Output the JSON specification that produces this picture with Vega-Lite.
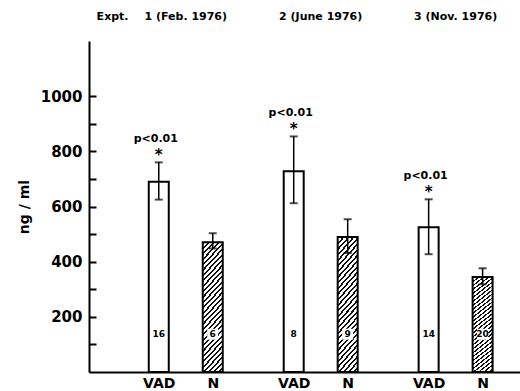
{
  "$schema": "https://vega.github.io/schema/vega-lite/v6.json",
  "width": 431,
  "height": 331,
  "autosize": {"type": "none"},
  "padding": {"left": 89, "top": 41, "right": 0, "bottom": 19},
  "background": "white",
  "config": {"view": {"stroke": null}},
  "resolve": {"axis": {"y": "independent"}},
  "datasets": {
    "bars": [
      {"expt": 1, "group": "VAD", "pos": 1, "mean": 690, "lo": 625, "hi": 760, "n": 16, "sig": "p<0.01"},
      {"expt": 1, "group": "N", "pos": 2, "mean": 470, "lo": 448, "hi": 503, "n": 6, "sig": ""},
      {"expt": 2, "group": "VAD", "pos": 3.5, "mean": 728, "lo": 612, "hi": 854, "n": 8, "sig": "p<0.01"},
      {"expt": 2, "group": "N", "pos": 4.5, "mean": 489, "lo": 431, "hi": 554, "n": 9, "sig": ""},
      {"expt": 3, "group": "VAD", "pos": 6, "mean": 525, "lo": 427, "hi": 626, "n": 14, "sig": "p<0.01"},
      {"expt": 3, "group": "N", "pos": 7, "mean": 344, "lo": 318, "hi": 376, "n": 20, "sig": ""}
    ],
    "headers": [
      {"pos": 0.144, "label": "Expt."},
      {"pos": 1.5, "label": "1 (Feb. 1976)"},
      {"pos": 4.0, "label": "2 (June 1976)"},
      {"pos": 6.5, "label": "3 (Nov. 1976)"}
    ]
  },
  "data": {"name": "bars"},
  "encoding": {
    "x": {
      "field": "pos", "type": "quantitative",
      "scale": {"domain": [-0.2, 7.6], "nice": false, "zero": false},
      "axis": {
        "title": null, "values": [1, 2, 3.5, 4.5, 6, 7],
        "labelExpr": "indexof([1, 3.5, 6], datum.value) >= 0 ? 'VAD' : 'N'",
        "ticks": false, "grid": false, "domainColor": "black", "domainWidth": 2,
        "labelFont": "DejaVu Sans", "labelFontWeight": "bold", "labelFontSize": 14,
        "labelColor": "black", "labelPadding": 4, "labelOverlap": false
      }
    }
  },
  "layer": [
    {
      "transform": [{"filter": "datum.group === 'VAD'"}],
      "mark": {"type": "bar", "size": 20, "fill": "white", "stroke": "black", "strokeWidth": 2},
      "encoding": {
        "y": {
          "field": "mean", "type": "quantitative",
          "scale": {"domain": [0, 1200], "nice": false},
          "axis": {
            "title": "ng / ml", "values": [100, 200, 300, 400, 500, 600, 700, 800, 900, 1000],
            "format": "d",
            "labelExpr": "datum.value % 200 === 0 ? datum.label : ''",
            "labelOverlap": false,
            "grid": false, "tickSize": -7, "tickColor": "black", "tickWidth": 2,
            "domainColor": "black", "domainWidth": 2,
            "labelFont": "DejaVu Sans", "labelFontWeight": "bold", "labelFontSize": 15,
            "labelColor": "black", "labelPadding": 14,
            "titleFont": "DejaVu Sans", "titleFontWeight": "bold", "titleFontSize": 14,
            "titleColor": "black", "titlePadding": 9
          }
        }
      }
    },
    {
      "transform": [{"filter": "datum.group === 'N'"}],
      "mark": {
        "type": "bar", "size": 20, "stroke": "black", "strokeWidth": 2,
        "fill": {
          "gradient": "linear", "x1": 0, "y1": 0, "x2": 0.189, "y2": 1.135,
          "stops": [
            {"offset": 0, "color": "#111"}, {"offset": 0.0143, "color": "#111"}, {"offset": 0.0143, "color": "#fff"}, {"offset": 0.0357, "color": "#fff"},
            {"offset": 0.0357, "color": "#111"}, {"offset": 0.0500, "color": "#111"}, {"offset": 0.0500, "color": "#fff"}, {"offset": 0.0714, "color": "#fff"},
            {"offset": 0.0714, "color": "#111"}, {"offset": 0.0857, "color": "#111"}, {"offset": 0.0857, "color": "#fff"}, {"offset": 0.1071, "color": "#fff"},
            {"offset": 0.1071, "color": "#111"}, {"offset": 0.1214, "color": "#111"}, {"offset": 0.1214, "color": "#fff"}, {"offset": 0.1429, "color": "#fff"},
            {"offset": 0.1429, "color": "#111"}, {"offset": 0.1571, "color": "#111"}, {"offset": 0.1571, "color": "#fff"}, {"offset": 0.1786, "color": "#fff"},
            {"offset": 0.1786, "color": "#111"}, {"offset": 0.1929, "color": "#111"}, {"offset": 0.1929, "color": "#fff"}, {"offset": 0.2143, "color": "#fff"},
            {"offset": 0.2143, "color": "#111"}, {"offset": 0.2286, "color": "#111"}, {"offset": 0.2286, "color": "#fff"}, {"offset": 0.2500, "color": "#fff"},
            {"offset": 0.2500, "color": "#111"}, {"offset": 0.2643, "color": "#111"}, {"offset": 0.2643, "color": "#fff"}, {"offset": 0.2857, "color": "#fff"},
            {"offset": 0.2857, "color": "#111"}, {"offset": 0.3000, "color": "#111"}, {"offset": 0.3000, "color": "#fff"}, {"offset": 0.3214, "color": "#fff"},
            {"offset": 0.3214, "color": "#111"}, {"offset": 0.3357, "color": "#111"}, {"offset": 0.3357, "color": "#fff"}, {"offset": 0.3571, "color": "#fff"},
            {"offset": 0.3571, "color": "#111"}, {"offset": 0.3714, "color": "#111"}, {"offset": 0.3714, "color": "#fff"}, {"offset": 0.3929, "color": "#fff"},
            {"offset": 0.3929, "color": "#111"}, {"offset": 0.4071, "color": "#111"}, {"offset": 0.4071, "color": "#fff"}, {"offset": 0.4286, "color": "#fff"},
            {"offset": 0.4286, "color": "#111"}, {"offset": 0.4429, "color": "#111"}, {"offset": 0.4429, "color": "#fff"}, {"offset": 0.4643, "color": "#fff"},
            {"offset": 0.4643, "color": "#111"}, {"offset": 0.4786, "color": "#111"}, {"offset": 0.4786, "color": "#fff"}, {"offset": 0.5000, "color": "#fff"},
            {"offset": 0.5000, "color": "#111"}, {"offset": 0.5143, "color": "#111"}, {"offset": 0.5143, "color": "#fff"}, {"offset": 0.5357, "color": "#fff"},
            {"offset": 0.5357, "color": "#111"}, {"offset": 0.5500, "color": "#111"}, {"offset": 0.5500, "color": "#fff"}, {"offset": 0.5714, "color": "#fff"},
            {"offset": 0.5714, "color": "#111"}, {"offset": 0.5857, "color": "#111"}, {"offset": 0.5857, "color": "#fff"}, {"offset": 0.6071, "color": "#fff"},
            {"offset": 0.6071, "color": "#111"}, {"offset": 0.6214, "color": "#111"}, {"offset": 0.6214, "color": "#fff"}, {"offset": 0.6429, "color": "#fff"},
            {"offset": 0.6429, "color": "#111"}, {"offset": 0.6571, "color": "#111"}, {"offset": 0.6571, "color": "#fff"}, {"offset": 0.6786, "color": "#fff"},
            {"offset": 0.6786, "color": "#111"}, {"offset": 0.6929, "color": "#111"}, {"offset": 0.6929, "color": "#fff"}, {"offset": 0.7143, "color": "#fff"},
            {"offset": 0.7143, "color": "#111"}, {"offset": 0.7286, "color": "#111"}, {"offset": 0.7286, "color": "#fff"}, {"offset": 0.7500, "color": "#fff"},
            {"offset": 0.7500, "color": "#111"}, {"offset": 0.7643, "color": "#111"}, {"offset": 0.7643, "color": "#fff"}, {"offset": 0.7857, "color": "#fff"},
            {"offset": 0.7857, "color": "#111"}, {"offset": 0.8000, "color": "#111"}, {"offset": 0.8000, "color": "#fff"}, {"offset": 0.8214, "color": "#fff"},
            {"offset": 0.8214, "color": "#111"}, {"offset": 0.8357, "color": "#111"}, {"offset": 0.8357, "color": "#fff"}, {"offset": 0.8571, "color": "#fff"},
            {"offset": 0.8571, "color": "#111"}, {"offset": 0.8714, "color": "#111"}, {"offset": 0.8714, "color": "#fff"}, {"offset": 0.8929, "color": "#fff"},
            {"offset": 0.8929, "color": "#111"}, {"offset": 0.9071, "color": "#111"}, {"offset": 0.9071, "color": "#fff"}, {"offset": 0.9286, "color": "#fff"},
            {"offset": 0.9286, "color": "#111"}, {"offset": 0.9429, "color": "#111"}, {"offset": 0.9429, "color": "#fff"}, {"offset": 0.9643, "color": "#fff"},
            {"offset": 0.9643, "color": "#111"}, {"offset": 0.9786, "color": "#111"}, {"offset": 0.9786, "color": "#fff"}, {"offset": 1, "color": "#fff"}
          ]
        }
      },
      "encoding": {"y": {"field": "mean", "type": "quantitative", "axis": null}}
    },
    {
      "mark": {"type": "rule", "color": "black", "strokeWidth": 1.5},
      "encoding": {"y": {"field": "lo", "type": "quantitative", "axis": null}, "y2": {"field": "hi"}}
    },
    {
      "mark": {"type": "tick", "orient": "horizontal", "size": 8, "thickness": 2, "color": "black"},
      "encoding": {"y": {"field": "hi", "type": "quantitative", "axis": null}}
    },
    {
      "mark": {"type": "tick", "orient": "horizontal", "size": 8, "thickness": 2, "color": "black"},
      "encoding": {"y": {"field": "lo", "type": "quantitative", "axis": null}}
    },
    {
      "transform": [{"filter": "datum.group === 'N'"}],
      "mark": {"type": "point", "shape": "square", "filled": true, "color": "white", "opacity": 1, "size": 120},
      "encoding": {"y": {"datum": 137, "axis": null}}
    },
    {
      "mark": {"type": "text", "font": "DejaVu Sans", "fontWeight": "bold", "color": "black", "fontSize": 9, "baseline": "middle", "align": "center"},
      "encoding": {"y": {"datum": 137, "axis": null}, "text": {"field": "n", "type": "nominal"}}
    },
    {
      "transform": [{"filter": "datum.sig !== ''"}],
      "mark": {"type": "text", "font": "DejaVu Sans", "fontWeight": "bold", "color": "black", "fontSize": 15, "baseline": "middle", "align": "center", "dy": -7},
      "encoding": {"y": {"field": "hi", "type": "quantitative", "axis": null}, "text": {"value": "*"}}
    },
    {
      "transform": [{"filter": "datum.sig !== ''"}],
      "mark": {"type": "text", "font": "DejaVu Sans", "fontWeight": "bold", "color": "black", "fontSize": 11, "baseline": "middle", "align": "center", "dy": -23, "dx": -3},
      "encoding": {"y": {"field": "hi", "type": "quantitative", "axis": null}, "text": {"field": "sig", "type": "nominal"}}
    },
    {
      "data": {"name": "headers"},
      "mark": {"type": "text", "font": "DejaVu Sans", "fontWeight": "bold", "color": "black", "fontSize": 11, "baseline": "middle", "align": "center"},
      "encoding": {
        "x": {"field": "pos", "type": "quantitative"},
        "y": {"datum": 1287, "axis": null},
        "text": {"field": "label", "type": "nominal"}
      }
    }
  ]
}
